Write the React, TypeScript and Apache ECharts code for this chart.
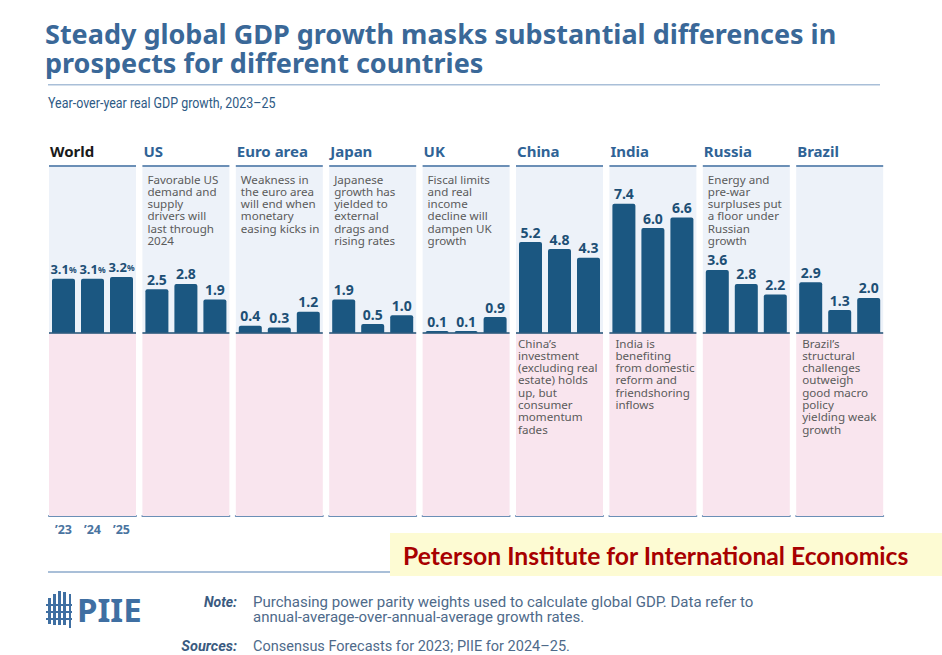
import React, { useEffect, useRef } from "react";
import * as echarts from "echarts";

const PANELS = ["World", "US", "Euro area", "Japan", "UK", "China", "India", "Russia", "Brazil"];
const YEARS = ["\u201923", "\u201924", "\u201925"];
const WORLD = [3.1, 3.1, 3.2];
const US = [2.5, 2.8, 1.9];
const EURO = [0.4, 0.3, 1.2];
const JAPAN = [1.9, 0.5, 1.0];
const UK = [0.1, 0.1, 0.9];
const CHINA = [5.2, 4.8, 4.3];
const INDIA = [7.4, 6.0, 6.6];
const RUSSIA = [3.6, 2.8, 2.2];
const BRAZIL = [2.9, 1.3, 2.0];
const SERIES = [WORLD, US, EURO, JAPAN, UK, CHINA, INDIA, RUSSIA, BRAZIL];

const TOP_NOTES = [
  "",
  "Favorable US\ndemand and\nsupply\ndrivers will\nlast through\n2024",
  "Weakness in\nthe euro area\nwill end when\nmonetary\neasing kicks in",
  "Japanese\ngrowth has\nyielded to\nexternal\ndrags and\nrising rates",
  "Fiscal limits\nand real\nincome\ndecline will\ndampen UK\ngrowth",
  "",
  "",
  "Energy and\npre-war\nsurpluses put\na floor under\nRussian\ngrowth",
  "",
];
const BOTTOM_NOTES = [
  "", "", "", "", "",
  "China\u2019s\ninvestment\n(excluding real\nestate) holds\nup, but\nconsumer\nmomentum\nfades",
  "India is\nbenefiting\nfrom domestic\nreform and\nfriendshoring\ninflows",
  "",
  "Brazil\u2019s\nstructural\nchallenges\noutweigh\ngood macro\npolicy\nyielding weak\ngrowth",
];

const TITLE_LINES = ["Steady global GDP growth masks substantial differences in", "prospects for different countries"];
const SUBTITLE = "Year-over-year real GDP growth, 2023\u201325";
const NOTE_LINES = [
  "Purchasing power parity weights used to calculate global GDP. Data refer to",
  "annual-average-over-annual-average growth rates.",
];
const SOURCES = "Consensus Forecasts for 2023; PIIE for 2024\u201325.";
const BANNER = "Peterson Institute for International Economics";

const Y_MAX = 9.5;
const Y_MIN = -10.5;

const BAR = "#1b5781";
const BLUE_BG = "#edf2f9";
const PINK_BG = "#f9e5ee";
const BORDER = "#6b8fb6";
const HEAD = "#2f6396";
const NOTE_GRAY = "#5b5b5b";
const FONT = "'Noto Sans', 'DejaVu Sans', sans-serif";
const NARROW = "Roboto, 'Liberation Sans', sans-serif";

const LEFT0 = 49;
const STEP = 93.4;
const PW = 87;
const TOP = 167;
const PH = 349;
const LH = 12.3;

export default function App() {
  const ref = useRef<HTMLDivElement>(null);
  useEffect(() => {
    if (!ref.current) return;
    const chart = echarts.init(ref.current, null, { renderer: "svg" });
    const grids: any[] = [];
    const xAxes: any[] = [];
    const yAxes: any[] = [];
    const series: any[] = [];
    const graphics: any[] = [];

    const addLines = (text: string, x: number, y0: number) => {
      text.split("\n").forEach((line, k) => {
        graphics.push({
          type: "text",
          x,
          y: y0 + k * LH,
          style: {
            text: line,
            fill: NOTE_GRAY,
            font: `11.6px ${FONT}`,
            verticalAlign: "middle",
          },
          z: 10,
        });
      });
    };

    PANELS.forEach((name, i) => {
      const left = LEFT0 + STEP * i;
      grids.push({ left, top: TOP, width: PW, height: PH, containLabel: false });
      xAxes.push({
        type: "category",
        gridIndex: i,
        data: YEARS,
        axisLine: { show: true, onZero: false, lineStyle: { color: BORDER, width: 2 } },
        axisTick: { show: false },
        axisLabel: {
          show: i === 0,
          color: "#4a74a0",
          fontFamily: FONT,
          fontWeight: "bold",
          fontSize: 12.5,
          margin: 7,
        },
      });
      yAxes.push({
        type: "value",
        gridIndex: i,
        min: Y_MIN,
        max: Y_MAX,
        show: false,
        splitLine: { show: false },
      });
      series.push({
        type: "bar",
        xAxisIndex: i,
        yAxisIndex: i,
        data: SERIES[i],
        barWidth: 23,
        itemStyle: { color: BAR, borderRadius: [2, 2, 0, 0] },
        label: {
          show: true,
          position: "top",
          distance: 3,
          color: "#1d4f75",
          fontFamily: FONT,
          fontWeight: "bold",
          fontSize: 14,
          formatter:
            i === 0
              ? (p: any) => `{v|${p.value.toFixed(1)}}{p|%}`
              : (p: any) => p.value.toFixed(1),
          rich:
            i === 0
              ? {
                  v: { fontSize: 13, fontWeight: "bold", color: "#1d4f75", fontFamily: FONT },
                  p: { fontSize: 8.5, fontWeight: "bold", color: "#1d4f75", fontFamily: FONT },
                }
              : undefined,
        },
        markArea: {
          silent: true,
          itemStyle: { opacity: 1 },
          data: [
            [{ yAxis: 0, itemStyle: { color: BLUE_BG } }, { yAxis: Y_MAX }],
            [{ yAxis: Y_MIN, itemStyle: { color: PINK_BG } }, { yAxis: 0 }],
          ],
        },
        markLine: {
          silent: true,
          symbol: ["none", "none"],
          label: { show: false },
          lineStyle: { color: "#1d4f75", width: 1.5, type: "solid" },
          data: [{ yAxis: 0 }],
        },
        z: 3,
      });

      graphics.push({
        type: "rect",
        shape: { x: left, y: TOP - 2, width: PW, height: 2 },
        style: { fill: BORDER },
      });
      graphics.push({
        type: "text",
        x: left + 1,
        y: 151,
        style: {
          text: name,
          fill: i === 0 ? "#1a1a1a" : HEAD,
          font: `bold 15px ${FONT}`,
          verticalAlign: "middle",
        },
      });
      if (TOP_NOTES[i]) addLines(TOP_NOTES[i], left + 5, 179);
      if (BOTTOM_NOTES[i]) addLines(BOTTOM_NOTES[i], left + (i === 5 ? 2 : 6), 343);
    });

    TITLE_LINES.forEach((line, k) => {
      graphics.push({
        type: "text",
        x: 45,
        y: 33 + k * 29,
        style: {
          text: line,
          fill: "#3a6898",
          font: `bold 27px ${FONT}`,
          verticalAlign: "middle",
        },
      });
    });
    graphics.push({
      type: "rect",
      shape: { x: 48, y: 84, width: 832, height: 1.5 },
      style: { fill: "#a9bfd8" },
    });
    graphics.push({
      type: "text",
      x: 48,
      y: 103,
      scaleX: 0.86,
      originX: 0,
      style: {
        text: SUBTITLE,
        fill: "#2e5a85",
        font: `14.5px ${NARROW}`,
        verticalAlign: "middle",
      },
    });
    graphics.push({
      type: "rect",
      shape: { x: 48, y: 571, width: 832, height: 2 },
      style: { fill: "#a9bfd8" },
    });
    graphics.push({
      type: "rect",
      shape: { x: 390, y: 533, width: 552, height: 43 },
      style: { fill: "#fdfbd3" },
      z: 20,
    });
    graphics.push({
      type: "text",
      x: 403,
      y: 555,
      style: {
        text: BANNER,
        fill: "#a80000",
        font: `bold 24.7px Lato, ${FONT}`,
        verticalAlign: "middle",
      },
      z: 21,
    });
    const LOGO = "#3f6fa2";
    const logoParts: any[] = [
      { x: 48, y: 598, w: 3, h: 26 },
      { x: 53, y: 594, w: 3, h: 31 },
      { x: 58, y: 591, w: 3, h: 34 },
      { x: 63, y: 592, w: 3, h: 33 },
      { x: 69, y: 594, w: 2, h: 34 },
      { x: 46, y: 604, w: 26, h: 2 },
      { x: 46, y: 611, w: 26, h: 2 },
      { x: 46, y: 618, w: 26, h: 2 },
    ];
    logoParts.forEach((p) =>
      graphics.push({
        type: "rect",
        shape: { x: p.x, y: p.y, width: p.w, height: p.h },
        style: { fill: LOGO },
      })
    );
    graphics.push({
      type: "text",
      x: 77,
      y: 609,
      style: {
        text: "PIIE",
        fill: LOGO,
        font: `bold 33px ${FONT}`,
        verticalAlign: "middle",
      },
    });
    graphics.push({
      type: "text",
      x: 237,
      y: 602,
      style: {
        text: "Note:",
        fill: "#3a5a80",
        font: `italic bold 14px ${NARROW}`,
        align: "right",
        verticalAlign: "middle",
      },
    });
    NOTE_LINES.forEach((line, k) => {
      graphics.push({
        type: "text",
        x: 253,
        y: 602 + k * 15,
        style: {
          text: line,
          fill: "#4e6a8a",
          font: `15px ${NARROW}`,
          verticalAlign: "middle",
        },
      });
    });
    graphics.push({
      type: "text",
      x: 237,
      y: 646,
      style: {
        text: "Sources:",
        fill: "#3a5a80",
        font: `italic bold 14.5px ${NARROW}`,
        align: "right",
        verticalAlign: "middle",
      },
    });
    graphics.push({
      type: "text",
      x: 253,
      y: 646,
      style: {
        text: SOURCES,
        fill: "#4e6a8a",
        font: `14.5px ${NARROW}`,
        verticalAlign: "middle",
      },
    });

    chart.setOption({
      animation: false,
      backgroundColor: "#ffffff",
      grid: grids,
      xAxis: xAxes,
      yAxis: yAxes,
      series,
      graphic: graphics,
    });
    return () => chart.dispose();
  }, []);
  return (
    <div
      ref={ref}
      style={{ position: "fixed", left: 0, top: 0, width: 942, height: 655 }}
    />
  );
}
